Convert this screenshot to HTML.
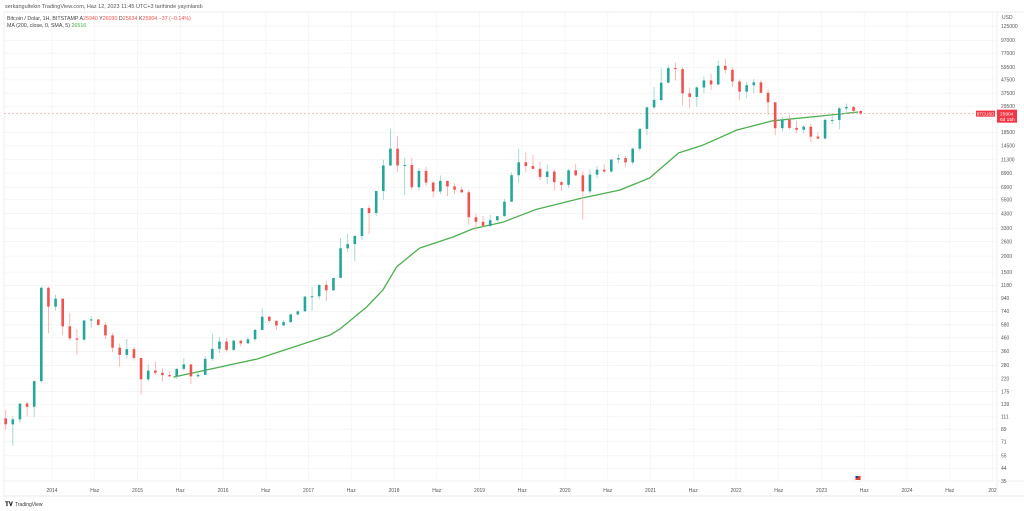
<!DOCTYPE html>
<html><head><meta charset="utf-8">
<style>
html,body{margin:0;padding:0;background:#fff;width:1024px;height:511px;overflow:hidden;font-family:"Liberation Sans",sans-serif;}
svg{display:block}
</style></head>
<body>
<svg id="c" width="1024" height="511" xmlns="http://www.w3.org/2000/svg">
<text x="5" y="8" font-size="5.5" fill="#555">serkangultekin TradingView.com, Haz 12, 2023 11:45 UTC+3 tarihinde yayınlandı</text>
<line x1="4" y1="12" x2="1024" y2="12" stroke="#e8e8e8" stroke-width="0.7"/>
<line x1="4" y1="12" x2="4" y2="496" stroke="#e8e8e8" stroke-width="0.7"/>
<line x1="997" y1="12" x2="997" y2="496" stroke="#e8e8e8" stroke-width="0.7"/>
<line x1="4" y1="481" x2="1024" y2="481" stroke="#e8e8e8" stroke-width="0.7"/>
<line x1="4" y1="496" x2="1024" y2="496" stroke="#e0e0e0" stroke-width="0.7"/>
<g id="grid"></g>
<g id="ma"></g>
<g id="candles"></g>
<g id="axes"></g>
<text x="7" y="20" font-size="5.3" fill="#444">Bitcoin / Dolar, 1H, BITSTAMP  A<tspan fill="#ef5350">25940</tspan> Y<tspan fill="#ef5350">26030</tspan> D<tspan fill="#ef5350">25634</tspan> K<tspan fill="#ef5350">25904 −37 (−0.14%)</tspan></text>
<text x="7" y="27" font-size="5.3" fill="#444">MA (200, close, 0, SMA, 5) <tspan fill="#4caf50">26516</tspan></text>
<text x="1002" y="19" font-size="5" fill="#555">USD</text>
<text x="5" y="506" font-size="6" font-weight="bold" fill="#222">𝐓𝐕</text>
<text x="15" y="506" font-size="5" fill="#333">TradingView</text>
<g><circle cx="858" cy="478" r="3.5" fill="#fff" stroke="#ddd" stroke-width="0.5"/><rect x="855.5" y="476" width="5" height="4" fill="#e53935"/><rect x="855.5" y="476" width="2.5" height="2" fill="#1e3a8a"/></g>
</svg>
<script>
const yTicks=[125000,97000,77000,59500,47500,37500,29500,18500,14500,11300,8900,6900,5500,4300,3300,2600,2000,1500,1180,940,740,580,460,360,280,220,175,139,111,89,71,55,44,35];
const xTickLabels=["2014","Haz","2015","Haz","2016","Haz","2017","Haz","2018","Haz","2019","Haz","2020","Haz","2021","Haz","2022","Haz","2023","Haz","2024","Haz","202"];
const xTickYears=[2014,2014.5,2015,2015.5,2016,2016.5,2017,2017.5,2018,2018.5,2019,2019.5,2020,2020.5,2021,2021.5,2022,2022.5,2023,2023.5,2024,2024.5,2025];
const startMonth=[2013,6];
const opens=[108,97,106,141,133,211,1130,805,930,565,455,445,628,640,580,480,385,338,375,320,218,255,245,235,230,263,285,230,236,315,377,430,370,437,416,448,530,672,624,574,610,700,740,965,970,1190,1080,1350,2300,2480,2870,4740,4340,6450,10200,13800,10200,10300,6900,9250,7500,6400,7730,7000,6600,6300,4020,3700,3440,3810,4100,5320,8570,10800,10100,9600,8300,9150,7550,7200,9350,8550,6400,8650,9450,9150,11350,11650,10780,13800,19700,29000,33100,45200,58800,57700,37300,35000,41500,47100,43800,61300,57000,46200,38500,43200,45500,37700,31800,19950,23300,20050,19400,20500,17150,16550,23150,23150,28500,29250,27200];
const highs=[125,112,130,145,212,1160,1160,1000,930,720,540,630,680,640,605,500,415,450,390,320,285,300,265,250,265,318,285,245,330,495,465,460,445,440,465,540,780,680,625,630,710,755,970,1150,1200,1290,1350,2760,2980,2920,4750,4980,6450,11300,19700,17200,11700,11700,9750,9950,7750,8500,7760,7400,7000,6550,4300,4100,4200,4100,5600,9000,13800,12900,12300,10900,10400,9500,7750,9550,10500,9200,9450,10050,10400,11450,12480,12100,14100,19900,29300,41950,58300,61800,64900,59600,41300,42400,50500,52900,67000,69000,59100,47900,45800,48200,47400,40000,31900,24700,25200,22800,21100,21500,18400,23900,25300,29200,31000,29800,27500];
const lows=[88,66,100,112,110,205,500,750,480,440,340,430,550,570,450,355,275,315,305,165,210,235,210,225,220,255,200,225,235,305,350,355,365,395,413,435,530,600,530,570,600,690,740,750,920,890,1070,1350,2150,1830,2670,2970,4100,5500,10100,9100,6000,6600,6500,7050,5750,6080,5880,6100,6200,3500,3150,3350,3390,3700,4080,5300,7500,9100,9500,7800,7300,6500,6450,6850,8450,3850,6150,8100,8900,8950,10600,9900,10400,13200,17600,28100,32300,44900,47000,30000,28800,29300,37300,39600,43300,53300,42000,33000,34300,37200,37600,25400,17600,18800,19600,18150,18200,15500,16300,16500,21400,19550,26950,25800,25400];
const closes=[97,106,141,133,211,1130,805,930,565,455,445,628,640,580,480,385,338,375,320,218,255,245,235,230,263,285,230,236,315,377,430,370,437,416,448,530,672,624,574,610,700,740,965,970,1190,1080,1350,2300,2480,2870,4740,4340,6450,10200,13800,10200,10300,6900,9250,7500,6400,7730,7000,6600,6300,4020,3700,3440,3810,4100,5320,8570,10800,10100,9600,8300,9150,7550,7200,9350,8550,6400,8650,9450,9150,11350,11650,10780,13800,19700,29000,33100,45200,58800,57700,37300,35000,41500,47100,43800,61300,57000,46200,38500,43200,45500,37700,31800,19950,23300,20050,19400,20500,17150,16550,23150,23150,28500,29250,27200,25900];
const maDates=[2015.42,2016.40,2017.25,2017.37,2017.68,2017.87,2018.03,2018.30,2018.69,2018.92,2019.27,2019.67,2020.20,2020.64,2020.99,2021.33,2021.61,2022.01,2022.43,2022.98,2023.43];
const maValues=[227,314,483,540,800,1086,1645,2310,2820,3260,3670,4650,5680,6550,8150,12800,14700,19300,22800,24800,26700];
const lastPrice=25904;

const NS="http://www.w3.org/2000/svg";
const xOf=t=>52+(t-2014)*85.5;
const yOf=p=>481-55.6*Math.log(p/35);
function mk(tag,attrs,parent){const e=document.createElementNS(NS,tag);for(const k in attrs)e.setAttribute(k,attrs[k]);parent.appendChild(e);return e;}
const grid=document.getElementById('grid'),axes=document.getElementById('axes');
yTicks.forEach(v=>{
  const y=yOf(v);
  const l=mk('line',{x1:4,x2:997,y1:y,y2:y,stroke:'#f2f2f2','stroke-width':0.7},grid);
  
  
  const t=mk('text',{x:1001,y:y+1.8,'font-size':5,fill:'#555'},axes);
  t.textContent=v;
  
  
});
xTickYears.forEach((yr,i)=>{
  const x=xOf(yr);
  const l=mk('line',{x1:x,x2:x,y1:12,y2:481,stroke:'#f2f2f2','stroke-width':0.7},grid);
  
  
  const t=mk('text',{x:x,y:492,'font-size':5,fill:'#555','text-anchor':'middle'},axes);
  t.textContent=xTickLabels[i];
  
  
});
const cg=document.getElementById('candles');
closes.forEach((c,i)=>{
  const t=startMonth[0]+(startMonth[1]-1+i+0.5)/12;
  const x=xOf(t);const o=opens[i],h=highs[i],lo=lows[i];
  const up=c>=o;const col=up?'#26a69a':'#ef5350';const wc=up?'#8fd3cc':'#f7a9a7';
  const w=mk('line',{x1:x,x2:x,y1:yOf(h),y2:yOf(lo),stroke:wc,'stroke-width':0.8},cg);
  
  
  const yt=Math.min(yOf(o),yOf(c)),hb=Math.max(1,Math.abs(yOf(o)-yOf(c)));
  const b=mk('rect',{x:x-1.3,y:yt,width:2.6,height:hb,fill:col},cg);
  
  
});
const mg=document.getElementById('ma');
const pts=maDates.map((d,i)=>xOf(d).toFixed(1)+','+yOf(maValues[i]).toFixed(1)).join(' ');
const pl=mk('polyline',{points:pts,fill:'none',stroke:'#4caf50','stroke-width':1.3,'stroke-linejoin':'round'},mg);


const ly=yOf(lastPrice);
const dl=mk('line',{x1:4,x2:997,y1:ly,y2:ly,stroke:'#f5a0a0','stroke-width':0.6,'stroke-dasharray':'2,2'},axes);


const sb=mk('rect',{x:976,y:ly-3,width:19,height:6,fill:'#f23645'},axes);


const st=mk('text',{x:985.5,y:ly+1.7,'font-size':4.3,fill:'#fff','text-anchor':'middle'},axes);
st.textContent='BTCUSD';


const pb=mk('rect',{x:997,y:ly-4,width:20,height:13,fill:'#f23645'},axes);


const pt=mk('text',{x:1000,y:ly+1.8,'font-size':4.8,fill:'#fff'},axes);
pt.textContent=lastPrice;


const ct=mk('text',{x:1000,y:ly+7.5,'font-size':4.8,fill:'#fff'},axes);
ct.textContent='6d 15h';


</script>
</body></html>
